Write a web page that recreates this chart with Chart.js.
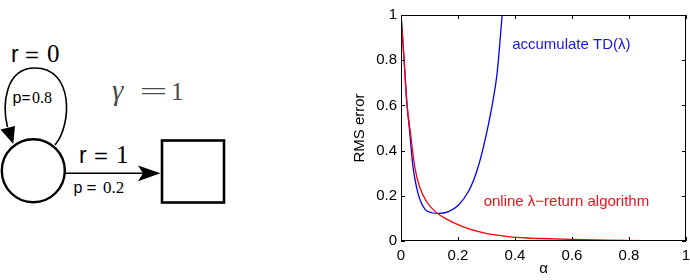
<!DOCTYPE html>
<html>
<head>
<meta charset="utf-8">
<script src="https://cdn.jsdelivr.net/npm/chart.js@4"></script>
<style>
html,body{margin:0;padding:0;background:#fff;}
#wrap{position:relative;width:690px;height:280px;overflow:hidden;}
#mdp{position:absolute;left:0;top:0;}
#box{position:absolute;left:340px;top:0;width:350px;height:280px;}
.s{font-family:"Liberation Sans",Arial,sans-serif;}
.t{font-family:"Liberation Serif","Times New Roman",serif;}
</style>
</head>
<body>
<div id="wrap">
<svg id="mdp" width="330" height="280">
  <!-- self loop -->
  <path d="M55,145 C72,125 74,68 35,68 C5,68 2,105 7.5,127" fill="none" stroke="#000" stroke-width="1.6"/>
  <polygon points="13.3,144 0.5,129.5 15,126" fill="#000"/>
  <circle cx="33.3" cy="170.7" r="31.5" fill="#fff" stroke="#000" stroke-width="2.4"/>
  <rect x="162" y="140.5" width="62" height="62" fill="#fff" stroke="#000" stroke-width="2.6"/>
  <!-- transition arrow -->
  <line x1="65" y1="173.3" x2="145" y2="173.3" stroke="#000" stroke-width="1.4"/>
  <polygon points="160.5,173.3 138,165.5 143,173.3 138,181.2" fill="#000"/>

  <text class="s" x="11" y="61.5" font-size="23">r</text>
  <text class="s" x="25" y="61.5" font-size="20" textLength="14" lengthAdjust="spacingAndGlyphs">=</text>
  <text class="t" x="47" y="61.5" font-size="25">0</text>

  <text class="s" x="12.5" y="102.5" font-size="16">p</text>
  <text class="s" x="21.5" y="102.5" font-size="14" textLength="9" lengthAdjust="spacingAndGlyphs">=</text>
  <text class="t" x="32" y="102.5" font-size="16">0.8</text>

  <text class="s" x="79" y="163" font-size="23">r</text>
  <text class="s" x="94" y="163" font-size="20" textLength="14" lengthAdjust="spacingAndGlyphs">=</text>
  <text class="t" x="116" y="163" font-size="25">1</text>

  <text class="s" x="73.5" y="193.3" font-size="16">p</text>
  <text class="s" x="86.5" y="193.3" font-size="14" textLength="10" lengthAdjust="spacingAndGlyphs">=</text>
  <text class="t" x="103" y="193.3" font-size="17">0.2</text>

  <text class="t" x="112" y="100" font-size="29" font-style="italic" fill="#4a4a4a">γ</text>
  <text class="t" x="139.5" y="100" font-size="26" fill="#4a4a4a" textLength="28" lengthAdjust="spacingAndGlyphs">=</text>
  <text class="t" x="171" y="100" font-size="25" fill="#4a4a4a">1</text>
</svg>
<div id="box"><canvas id="rms"></canvas></div>
</div>

<script>
// step size alpha vs RMS error
const tdAlpha = [0, 0.01, 0.02, 0.031, 0.042, 0.055, 0.068, 0.085, 0.108, 0.131, 0.167, 0.202, 0.237, 0.255, 0.27, 0.29, 0.305, 0.319, 0.337, 0.355];
const tdError = [1, 0.82, 0.62, 0.477, 0.329, 0.235, 0.178, 0.139, 0.125, 0.122, 0.13, 0.159, 0.22, 0.27, 0.325, 0.42, 0.505, 0.595, 0.74, 1.0];

const onlineAlpha = [0, 0.01, 0.02, 0.034, 0.048, 0.065, 0.089, 0.12, 0.155, 0.214, 0.272, 0.331, 0.39, 0.49, 0.6, 0.72, 0.85, 1.0];
const onlineError = [1, 0.82, 0.62, 0.47, 0.33, 0.24, 0.176, 0.13, 0.1, 0.065, 0.042, 0.027, 0.017, 0.011, 0.007, 0.004, 0.002, 0.001];

const tickValues = [0, 0.2, 0.4, 0.6, 0.8, 1];

const FONT = "'Liberation Sans', Arial, Helvetica, sans-serif";

function pts(xs, ys){
  return xs.map((x,i)=>({x:x, y:ys[i]}));
}

function fmt(v){
  return String(Math.round(v*10)/10);
}

// matlab style box with inward ticks + curve labels
const boxPlugin = {
  id:"box",
  afterDraw(chart){
    const ctx = chart.ctx;
    const a = chart.chartArea;
    const xs = chart.scales.x, ys = chart.scales.y;
    ctx.save();
    ctx.strokeStyle = "#000";
    ctx.lineWidth = 1;
    ctx.strokeRect(Math.round(a.left)+0.5, Math.round(a.top)+0.5, Math.round(a.right-a.left)-1, Math.round(a.bottom-a.top)-1);
    ctx.beginPath();
    tickValues.forEach(v=>{
      const px = Math.round(xs.getPixelForValue(v))+0.5;
      ctx.moveTo(px, a.bottom); ctx.lineTo(px, a.bottom-4);
      ctx.moveTo(px, a.top); ctx.lineTo(px, a.top+4);
      const py = Math.round(ys.getPixelForValue(v))+0.5;
      ctx.moveTo(a.left, py); ctx.lineTo(a.left+4, py);
      ctx.moveTo(a.right, py); ctx.lineTo(a.right-4, py);
    });
    ctx.stroke();

    ctx.font = "15px " + FONT;
    ctx.textBaseline = "middle";
    ctx.textAlign = "left";
    ctx.fillStyle = "#1515e6";
    ctx.fillText("accumulate TD(λ)", xs.getPixelForValue(0.39), ys.getPixelForValue(0.867));
    ctx.fillStyle = "#e8141c";
    ctx.fillText("online λ−return algorithm", xs.getPixelForValue(0.29), ys.getPixelForValue(0.174));
    ctx.restore();
  }
};

new Chart(document.getElementById("rms"),{
  type:"line",
  data:{
    datasets:[
      {
        label:"online λ-return algorithm",
        data:pts(onlineAlpha, onlineError),
        borderColor:"#ff0000",
        borderWidth:1.3,
        pointRadius:0,
        cubicInterpolationMode:"monotone",
        fill:false
      },
      {
        label:"accumulate TD(λ)",
        data:pts(tdAlpha, tdError),
        borderColor:"#0000ff",
        borderWidth:1.3,
        pointRadius:0,
        cubicInterpolationMode:"monotone",
        fill:false
      }
    ]
  },
  options:{
    responsive:true,
    maintainAspectRatio:false,
    animation:false,
    devicePixelRatio:1,
    layout:{padding:{top:15, right:1, bottom:0, left:0}},
    plugins:{legend:{display:false}, tooltip:{enabled:false}},
    scales:{
      x:{
        type:"linear",
        min:0, max:1,
        afterBuildTicks(s){ s.ticks = tickValues.map(v=>({value:v})); },
        afterFit(s){ s.height = 39; s.paddingLeft = 0; s.paddingRight = 4; },
        grid:{display:false, drawTicks:false},
        border:{display:false},
        ticks:{color:"#000", padding:6, maxRotation:0, callback:fmt, font:{family:FONT, size:15}},
        title:{display:true, text:"α", color:"#000", padding:{top:0, bottom:2}, font:{family:FONT, size:15}}
      },
      y:{
        type:"linear",
        min:0, max:1,
        afterBuildTicks(s){ s.ticks = tickValues.map(v=>({value:v})); },
        afterFit(s){ s.width = 61; s.paddingTop = 0; s.paddingBottom = 0; },
        grid:{display:false, drawTicks:false},
        border:{display:false},
        ticks:{color:"#000", padding:4, callback:fmt, font:{family:FONT, size:15}},
        title:{display:true, text:"RMS error", color:"#000", padding:{top:11, bottom:0}, font:{family:FONT, size:15}}
      }
    }
  },
  plugins:[boxPlugin]
});
</script>
</body>
</html>
